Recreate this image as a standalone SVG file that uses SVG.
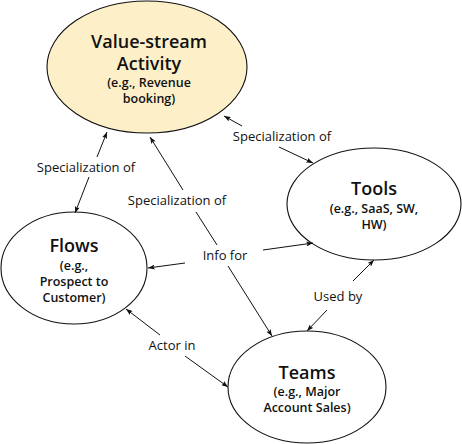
<svg xmlns="http://www.w3.org/2000/svg" width="462" height="444" viewBox="0 0 462 444">
<defs>
<marker id="ah" viewBox="0 0 8 6" refX="8" refY="3" markerWidth="7" markerHeight="5" markerUnits="userSpaceOnUse" orient="auto">
<path d="M0,0 L8,3 L0,6 L1.5,3 z" fill="#111"/>
</marker>
<style>
.node ellipse{stroke:#111;stroke-width:1.1;fill:#fff}
.title{font-family:"Open Sans","DejaVu Sans",sans-serif;font-size:18px;font-weight:600;fill:#111;text-anchor:middle}
.sub{font-family:"Open Sans","DejaVu Sans",sans-serif;font-size:12.5px;font-weight:600;fill:#111;text-anchor:middle}
.lbl{font-family:"Open Sans","DejaVu Sans",sans-serif;font-size:13px;fill:#111;text-anchor:middle}
.edge line{stroke:#111;stroke-width:1}
.edge line.a{marker-end:url(#ah)}
</style>
</defs>
<rect width="462" height="444" fill="#fff"/>
<g id="vs" class="node">
<ellipse cx="147" cy="67" rx="100" ry="66" style="fill:#fdf0c9"/>
<text class="title" x="149" y="48">Value-stream</text>
<text class="title" x="149" y="70">Activity</text>
<text class="sub" x="149" y="87">(e.g., Revenue</text>
<text class="sub" x="149" y="103">booking)</text>
</g>
<g id="flows" class="node">
<ellipse cx="74" cy="268" rx="73" ry="56"/>
<text class="title" x="74" y="252">Flows</text>
<text class="sub" x="74" y="270">(e.g.,</text>
<text class="sub" x="74" y="286">Prospect to</text>
<text class="sub" x="74" y="302">Customer)</text>
</g>
<g id="tools" class="node">
<ellipse cx="374" cy="204" rx="87" ry="56"/>
<text class="title" x="374" y="195">Tools</text>
<text class="sub" x="374" y="213">(e.g., SaaS, SW,</text>
<text class="sub" x="374" y="229">HW)</text>
</g>
<g id="teams" class="node">
<ellipse cx="307" cy="387" rx="79" ry="56"/>
<text class="title" x="307" y="379">Teams</text>
<text class="sub" x="307" y="396">(e.g., Major</text>
<text class="sub" x="307" y="412">Account Sales)</text>
</g>
<g id="connectors" class="edge">
<line class="a" x1="97" y1="157" x2="107" y2="132"/>
<line class="a" x1="89" y1="177" x2="75" y2="213"/>
<line class="a" x1="242" y1="126" x2="224" y2="116"/>
<line class="a" x1="279" y1="147" x2="313" y2="163"/>
<line class="a" x1="183" y1="190" x2="150" y2="137"/>
<line x1="196" y1="212" x2="217" y2="245"/>
<line class="a" x1="228" y1="266" x2="272" y2="336"/>
<line class="a" x1="185" y1="263" x2="148" y2="268"/>
<line class="a" x1="263" y1="250" x2="313" y2="243"/>
<line class="a" x1="353" y1="281" x2="374" y2="260"/>
<line class="a" x1="327" y1="310" x2="307" y2="331"/>
<line class="a" x1="160" y1="335" x2="126" y2="309"/>
<line class="a" x1="185" y1="356" x2="228" y2="387"/>
<text class="lbl" x="86" y="172">Specialization of</text>
<text class="lbl" x="282" y="141">Specialization of</text>
<text class="lbl" x="177" y="205">Specialization of</text>
<text class="lbl" x="225" y="260">Info for</text>
<text class="lbl" x="338" y="301">Used by</text>
<text class="lbl" x="172" y="350">Actor in</text>
</g>
</svg>
